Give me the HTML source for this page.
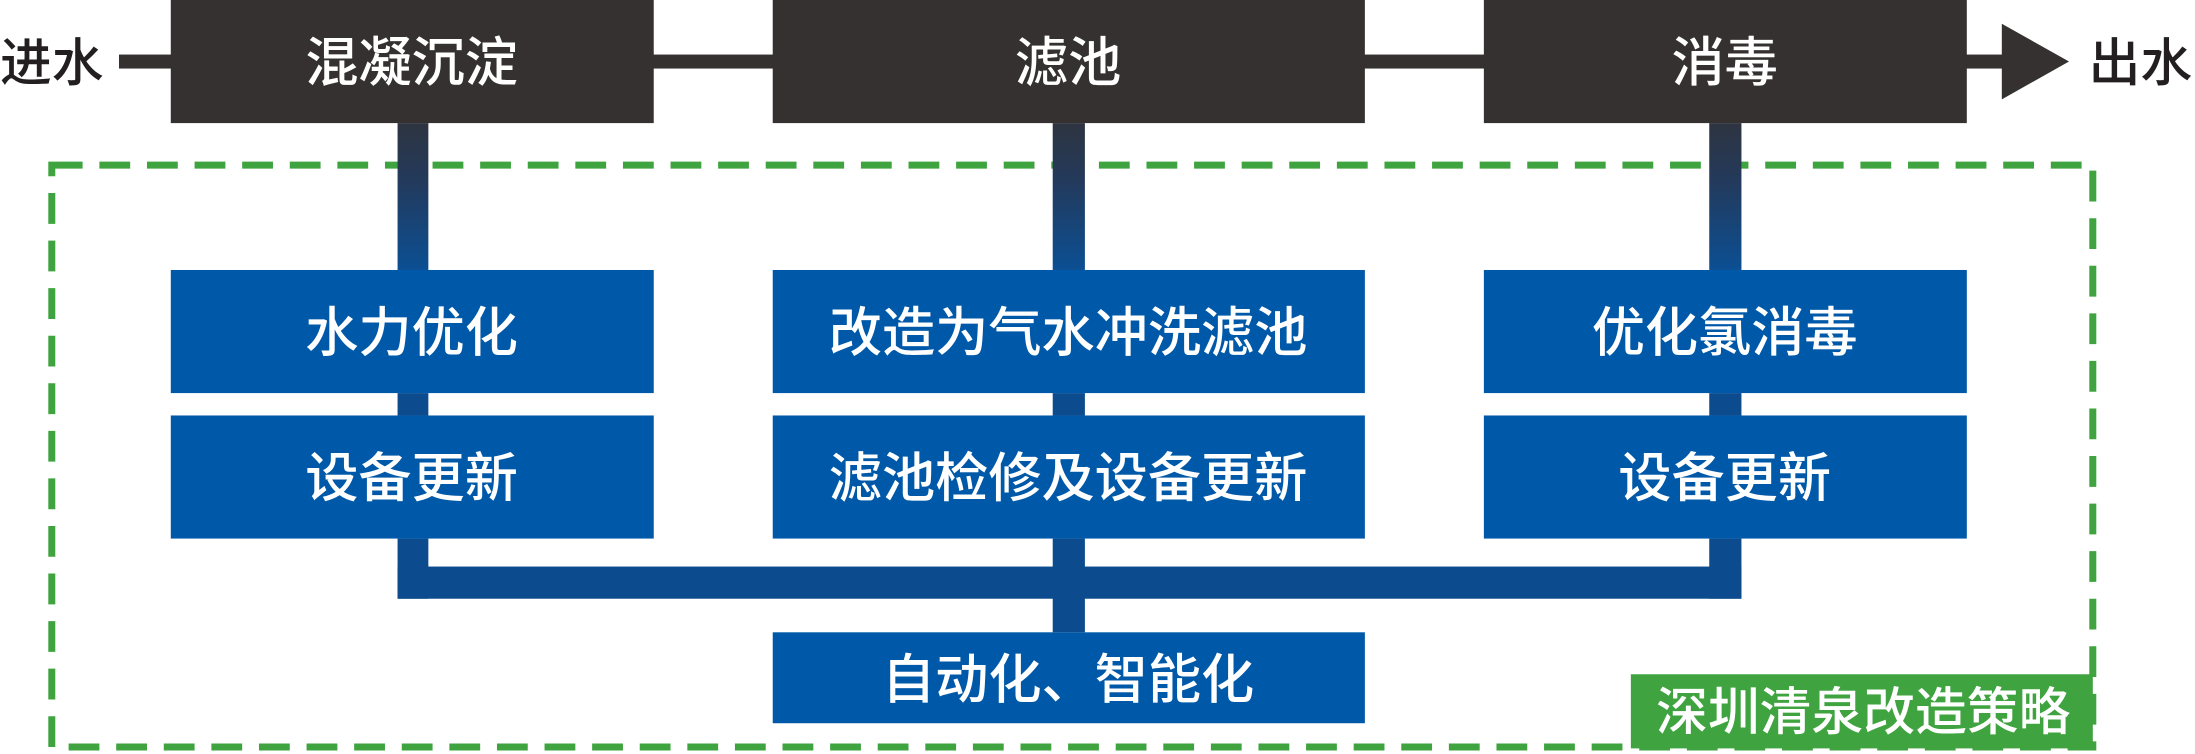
<!DOCTYPE html>
<html><head><meta charset="utf-8"><style>
html,body{margin:0;padding:0;background:#fff;}
svg{display:block;}
text{font-family:"Liberation Sans","Noto Sans CJK SC",sans-serif;}
</style></head><body>
<svg width="2195" height="754" viewBox="0 0 1568 539" preserveAspectRatio="none" xmlns="http://www.w3.org/2000/svg">
<defs>
<linearGradient id="g" x1="0" y1="0" x2="0" y2="1">
<stop offset="0" stop-color="#2e3440"/><stop offset="0.4" stop-color="#233a5c"/><stop offset="1" stop-color="#0b4f93"/>
</linearGradient>
</defs>
<rect x="37" y="118" width="1458" height="416" fill="none" stroke="#3fa33f" stroke-width="5" stroke-dasharray="22 12"/>
<rect x="85" y="39" width="1355" height="10" fill="#353130"/>
<polygon points="1430,17 1478,44 1430,71" fill="#353130"/>
<text x="0" y="58" font-size="37" font-weight="500" fill="#231f20">进水</text>
<text x="1492" y="58" font-size="37" font-weight="500" fill="#231f20">出水</text>
<rect x="284" y="88" width="22" height="105" fill="url(#g)"/>
<rect x="752" y="88" width="23" height="105" fill="url(#g)"/>
<rect x="1221" y="88" width="23" height="105" fill="url(#g)"/>
<rect x="284" y="281" width="22" height="16" fill="#0c4c8e"/>
<rect x="752" y="281" width="23" height="16" fill="#0c4c8e"/>
<rect x="1221" y="281" width="23" height="16" fill="#0c4c8e"/>
<rect x="284" y="385" width="22" height="43" fill="#0c4c8e"/>
<rect x="1221" y="385" width="23" height="43" fill="#0c4c8e"/>
<rect x="284" y="405" width="960" height="23" fill="#0c4c8e"/>
<rect x="752" y="385" width="23" height="67" fill="#0c4c8e"/>
<g fill="#353130">
<rect x="122" y="0" width="345" height="88"/>
<rect x="552" y="0" width="423" height="88"/>
<rect x="1060" y="0" width="345" height="88"/>
</g>
<g fill="#0058a8">
<rect x="122" y="193" width="345" height="88"/>
<rect x="552" y="193" width="423" height="88"/>
<rect x="1060" y="193" width="345" height="88"/>
<rect x="122" y="297" width="345" height="88"/>
<rect x="552" y="297" width="423" height="88"/>
<rect x="1060" y="297" width="345" height="88"/>
<rect x="552" y="452" width="423" height="65"/>
</g>
<g fill="#fff" font-size="38" font-weight="500" text-anchor="middle">
<text x="294" y="58">混凝沉淀</text>
<text x="763" y="58">滤池</text>
<text x="1232" y="58">消毒</text>
<text x="294" y="251">水力优化</text>
<text x="763" y="251">改造为气水冲洗滤池</text>
<text x="1232" y="251">优化氯消毒</text>
<text x="294" y="355">设备更新</text>
<text x="763" y="355">滤池检修及设备更新</text>
<text x="1232" y="355">设备更新</text>
<text x="763" y="499">自动化、智能化</text>
</g>
<rect x="1165" y="482" width="330" height="53" fill="#3fa33f"/>
<text x="1331" y="522" font-size="37" font-weight="500" fill="#fff" text-anchor="middle">深圳清泉改造策略</text>
</svg>
</body></html>
